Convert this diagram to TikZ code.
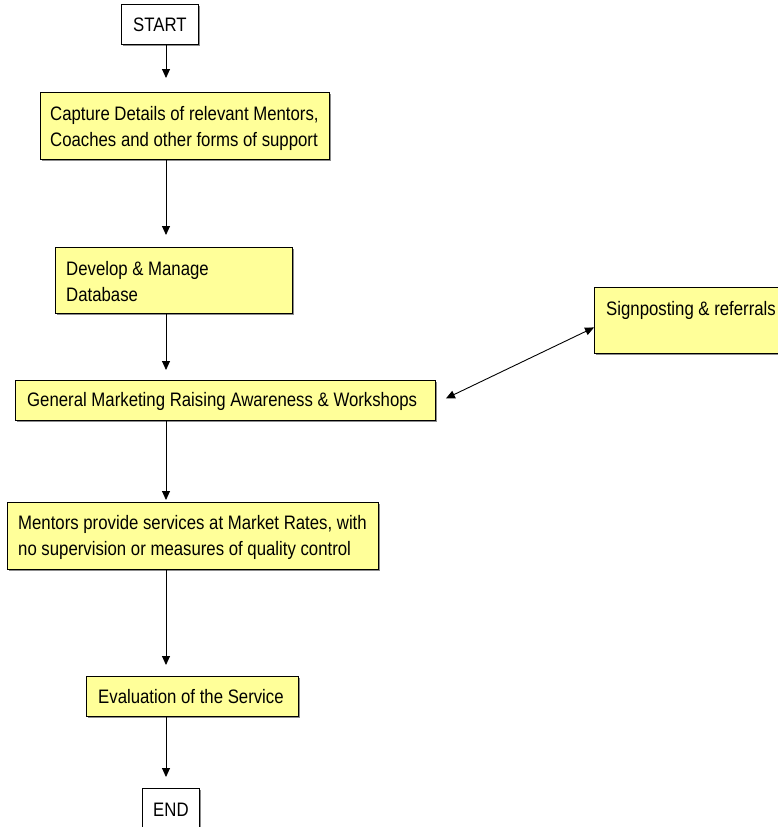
\documentclass[tikz,border=0pt]{standalone}
\usepackage{fontspec}
\setmainfont{Liberation Sans}[FakeStretch=0.86]
\usetikzlibrary{arrows.meta,shadows}
\definecolor{boxfill}{HTML}{FFFF99}
\begin{document}
\begin{tikzpicture}[x=1pt,y=-1pt,
  font=\fontsize{19.5}{26}\selectfont,
  shade/.style={drop shadow={shadow xshift=1.5pt, shadow yshift=-1.5pt, fill=black!45, opacity=1}},
  stepbox/.style={draw=black, line width=0.9pt, fill=boxfill, anchor=north west,
    inner sep=0pt, shade},
  termbox/.style={draw=black, line width=0.9pt, fill=white, anchor=north west,
    inner sep=0pt, align=center, shade},
  txt/.style={anchor=west, inner sep=0pt, align=left},
  arr/.style={-{Triangle[length=9pt,width=8pt]}, line width=0.9pt},
  arrtwo/.style={{Triangle[length=9pt,width=8pt]}-{Triangle[length=9pt,width=8pt]}, line width=0.9pt}]
\useasboundingbox (0,0) rectangle (778,827);
\clip (0,0) rectangle (778,827);

% start / end terminals
\node[termbox, minimum width=77pt, minimum height=40pt] (start) at (121,4) {START};
\node[termbox, minimum width=57pt, minimum height=42pt] (end) at (142,788) {END};

% process boxes
\node[stepbox, minimum width=289pt, minimum height=67pt] (capture) at (40,92) {};
\node[stepbox, minimum width=237pt, minimum height=66pt] (db) at (55,247) {};
\node[stepbox, minimum width=420pt, minimum height=40pt] (mkt) at (15,380) {};
\node[stepbox, minimum width=210pt, minimum height=66pt] (sign) at (594,287) {};
\node[stepbox, minimum width=371pt, minimum height=67pt] (mentors) at (7,502) {};
\node[stepbox, minimum width=212pt, minimum height=40pt] (eval) at (86,676) {};

% box texts
\node[txt] (capturetxt) at ([xshift=10pt,yshift=-3pt]capture.west)
  {Capture Details of relevant Mentors,\\Coaches and other forms of support};
\node[txt] (dbtxt) at ([xshift=11pt,yshift=-1pt]db.west) {Develop \& Manage\\Database};
\node[txt] (mkttxt) at ([xshift=12pt,yshift=-1.5pt]mkt.west) {General Marketing Raising Awareness \& Workshops};
\node[txt, anchor=north west] (signtxt) at ([xshift=12pt,yshift=-14pt]sign.north west)
  {Signposting \& referrals};
\node[txt] (mentorstxt) at ([xshift=11pt,yshift=-2pt]mentors.west)
  {Mentors provide services at Market Rates, with\\no supervision or measures of quality control};
\node[txt] (evaltxt) at ([xshift=12pt]eval.west) {Evaluation of the Service};

% connectors
\coordinate (ax) at (166,0);
\draw[arr] (start.south -| ax) -- ([yshift=14pt]capture.north -| ax);
\draw[arr] (capture.south -| ax) -- ([yshift=12pt]db.north -| ax);
\draw[arr] (db.south -| ax) -- ([yshift=10pt]mkt.north -| ax);
\draw[arr] (mkt.south -| ax) -- ([yshift=2pt]mentors.north -| ax);
\draw[arr] (mentors.south -| ax) -- ([yshift=11pt]eval.north -| ax);
\draw[arr] (eval.south -| ax) -- ([yshift=11pt]end.north -| ax);
\draw[arrtwo] ([xshift=10pt,yshift=2pt]mkt.east) -- ([yshift=-7pt]sign.west);
\end{tikzpicture}
\end{document}
